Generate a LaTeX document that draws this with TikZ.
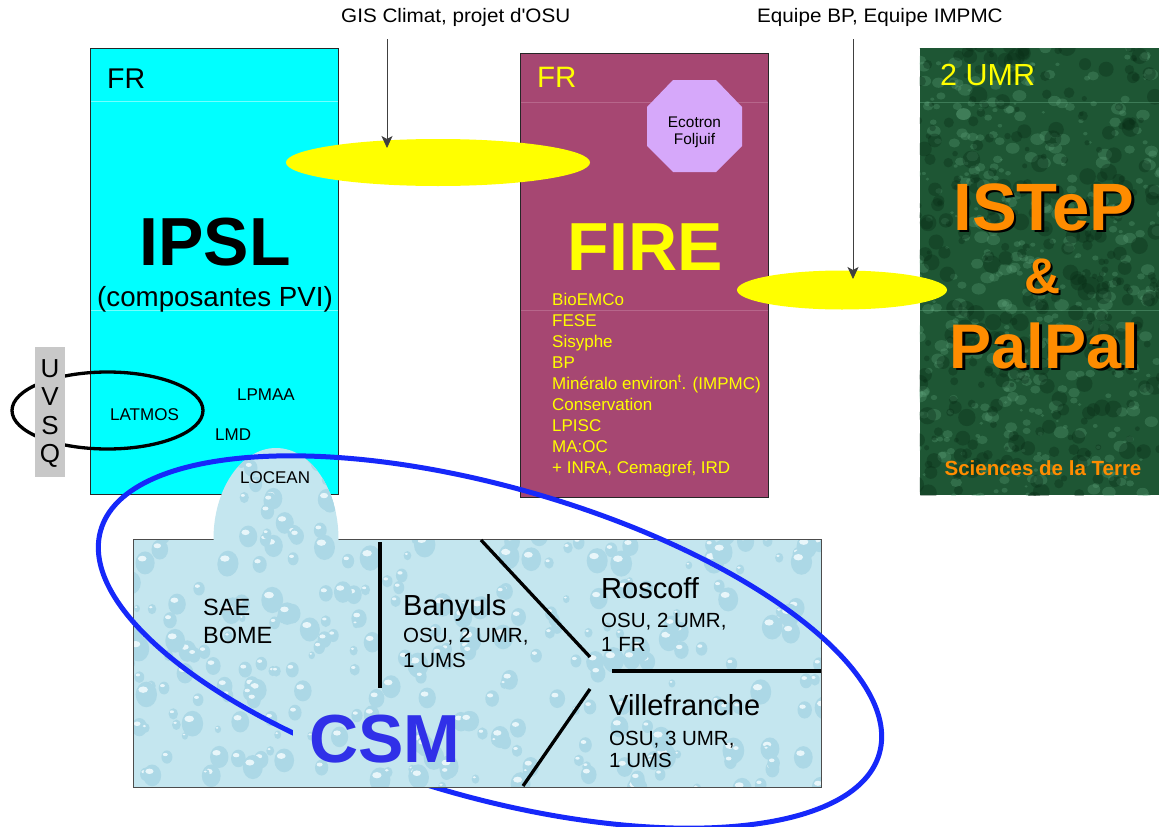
\documentclass[tikz,border=0pt]{standalone}
\usepackage{fontspec}
\setmainfont{Liberation Sans}[Ligatures=TeXOff]
\usetikzlibrary{arrows.meta,shapes.geometric}
\definecolor{ipslcyan}{RGB}{0,255,255}
\definecolor{firebg}{RGB}{166,71,114}
\definecolor{fireline}{RGB}{205,140,170}
\definecolor{octofill}{RGB}{214,168,250}
\definecolor{isgreen}{RGB}{30,86,52}
\definecolor{islite}{RGB}{100,170,130}
\definecolor{isdark}{RGB}{8,45,22}
\definecolor{orangetxt}{RGB}{255,140,0}
\definecolor{waterbg}{RGB}{196,230,239}
\definecolor{dropdark}{RGB}{172,216,230}
\definecolor{droplite}{RGB}{232,246,250}
\definecolor{csmblue}{RGB}{48,48,232}
\definecolor{ringblue}{RGB}{22,40,250}
\definecolor{uvsqgray}{RGB}{200,200,200}
\definecolor{mainyellow}{RGB}{255,255,0}
\newcommand\fsz[2]{\fontsize{#1}{#2}\selectfont}
\newcommand\shadowed[1]{\makebox[0pt][l]{\hspace{2.5pt}\raisebox{-2.5pt}{\color{black}#1}}#1}
\newcommand\waterdrops{%
  \pgfmathsetseed{4242}%
  \foreach \k in {1,...,380}{%
    \pgfmathsetmacro\px{128+rnd*700}%
    \pgfmathsetmacro\py{440+rnd*352}%
    \pgfmathsetmacro\pr{3+rnd*8}%
    \fill[dropdark] (\px,\py) ellipse [x radius=\pr, y radius=1.2*\pr];
    \fill[droplite] (\px-0.3*\pr,\py-0.45*\pr) ellipse [x radius=0.45*\pr, y radius=0.3*\pr];
  }}
\newcommand\greentexture{%
  \pgfmathsetseed{777}%
  \foreach \k in {1,...,450}{%
    \pgfmathsetmacro\px{915+rnd*250}%
    \pgfmathsetmacro\py{44+rnd*455}%
    \pgfmathsetmacro\pr{1.5+rnd*6}%
    \fill[islite,opacity=0.28] (\px,\py) ellipse [x radius=\pr, y radius=0.8*\pr];
  }
  \foreach \k in {1,...,350}{%
    \pgfmathsetmacro\px{915+rnd*250}%
    \pgfmathsetmacro\py{44+rnd*455}%
    \pgfmathsetmacro\pr{2+rnd*7}%
    \fill[isdark,opacity=0.35] (\px,\py) ellipse [x radius=\pr, y radius=\pr];
  }}
\tikzset{
  txt/.style={inner sep=0pt, anchor=base west},
  ctxt/.style={inner sep=0pt, anchor=base},
  boxline/.style={draw=black!85, line width=1pt},
  faint/.style={line width=0.8pt, opacity=0.45},
  labtxt/.style={txt, font=\fsz{17}{21}},
  firetxt/.style={txt, text=mainyellow, font=\fsz{17}{21}},
  subtxt/.style={txt, font=\fsz{20.5}{24}},
  headtxt/.style={txt, font=\fsz{29}{34}},
  bigtxt/.style={ctxt, font=\bfseries\fsz{68}{78}},
  toptxt/.style={txt, font=\fsz{19.5}{23}},
  yell/.style={ellipse, fill=mainyellow, draw=none, inner sep=0pt},
  thinarrow/.style={draw=black!75, line width=0.8pt, -{Stealth[length=12pt,width=11pt,inset=3pt]}},
  divider/.style={line width=3.3pt, black},
}
\begin{document}
\begin{tikzpicture}[x=1pt,y=-1pt]
\useasboundingbox (0,0) rectangle (1159,827);
\fill[white] (0,0) rectangle (1159,827);

% ---- IPSL box
\path[boxline, fill=ipslcyan] (90.5,48.5) rectangle (338.5,494.5);
\draw[faint, white] (91,101) -- (338,101);
\draw[faint, white] (91,310) -- (338,310);
% ---- FIRE box
\path[boxline, fill=firebg] (520.5,53.5) rectangle (768,497.5);
\draw[faint, fireline] (521,102) -- (767.5,102);
\draw[faint, fireline] (521,310) -- (767.5,310);
% ---- ISTeP box
\fill[isgreen] (919.5,48) rectangle (1159,495);
\begin{scope}
  \clip (919.5,48) rectangle (1159,495);
  \greentexture
\end{scope}
\draw[faint, islite] (920,102) -- (1159,102);
\draw[faint, islite] (920,310) -- (1159,310);

% ---- octagon
\fill[octofill] (673,80) -- (716,80) -- (742,107) -- (742,146) -- (716,172) -- (673,172) -- (647,146) -- (647,107) -- cycle;
\node[ctxt, font=\fsz{15.4}{18}] (eco) at (694.5,127) {Ecotron};
\node[ctxt, font=\fsz{15.4}{18}] (folj) at (694.5,144.5) {Foljuif};

% ---- IPSL texts
\node[txt, font=\fsz{28.5}{32}] (frA) at (107,88) {FR};
\node[bigtxt] (ipsl) at (215,265) {IPSL};
\node[ctxt, font=\fsz{27.7}{32}] (compo) at (215,306) {(composantes PVI)};
\node[labtxt] (lpmaa) at (237,400) {LPMAA};
\node[labtxt] (lmd) at (215,440) {LMD};
\node[labtxt] (latmos) at (110,420) {LATMOS};

% ---- FIRE texts
\node[txt, text=mainyellow, font=\fsz{29.5}{34}] (frB) at (537,87) {FR};
\node[bigtxt, text=mainyellow] (fire) at (645,270) {FIRE};
\foreach \t [count=\i from 0] in {BioEMCo, FESE, Sisyphe, BP, {Minéralo environ\textsuperscript{t}. (IMPMC)}, Conservation, LPISC, MA:OC, {+ INRA, Cemagref, IRD}}
  \node[firetxt] (fl\i) at (552,305+21*\i) {\t};

% ---- ISTeP texts
\node[txt, text=mainyellow, font=\fsz{30.5}{34}] (umr) at (940,85) {2 UMR};
\node[ctxt, text=orangetxt, font=\bfseries\fsz{67}{76}] (istep) at (1044,230) {\shadowed{ISTeP}};
\node[ctxt, text=orangetxt, font=\bfseries\fsz{50}{56}] (amp) at (1042.5,293) {\shadowed{\&}};
\node[ctxt, text=orangetxt, font=\bfseries\fsz{63}{72}] (pal) at (1044.5,368) {\shadowed{PalPal}};
\node[ctxt, text=orangetxt, font=\bfseries\fsz{20.5}{24}] (sciences) at (1043,475) {Sciences de la Terre};

% ---- LATMOS ring and UVSQ
\draw[line width=3.3pt, black] (107.5,410.5) ellipse [x radius=95.5, y radius=38.5];
\fill[uvsqgray] (35,347) rectangle (65,477);
\foreach \l/\yy [count=\i] in {U/377, V/405.5, S/434, Q/462.5}
  \node[ctxt, font=\fsz{26}{30}] (uv\i) at (50,\yy) {\l};

% ---- CSM water area
\fill[waterbg] (133,539) rectangle (821,787);
\begin{scope}
  \clip (133,539) rectangle (821,787);
  \waterdrops
\end{scope}
\draw[line width=0.9pt, black!70] (133,539) rectangle (821,787);
\begin{scope}
  \clip (150,440) rectangle (400,540);
  \fill[waterbg] (276,539) ellipse [x radius=62.5, y radius=91];
  \clip (276,539) ellipse [x radius=62.5, y radius=91];
  \waterdrops
\end{scope}

% dividers
\coordinate (vA) at (380,542); \coordinate (vB) at (380,688);
\coordinate (dA) at (481,540); \coordinate (dB) at (590,657);
\coordinate (hA) at (612,671); \coordinate (hB) at (821,671);
\coordinate (eA) at (590,689); \coordinate (eB) at (523,786);
\draw[divider] (vA) -- (vB);
\draw[divider] (dA) -- (dB);
\draw[divider] (hA) -- (hB);
\draw[divider] (eA) -- (eB);

% CSM texts
\node[labtxt] (locean) at (240,483) {LOCEAN};
\node[txt, font=\fsz{23.5}{28}] (sae) at (203,615) {SAE};
\node[txt, font=\fsz{23.5}{28}] (bome) at (203,643) {BOME};
\node[headtxt] (banyuls) at (403,615) {Banyuls};
\node[subtxt] (banA) at (403,642) {OSU, 2 UMR,};
\node[subtxt] (banB) at (403,667) {1 UMS};
\node[headtxt] (roscoff) at (601,598) {Roscoff};
\node[subtxt] (rosA) at (601,627) {OSU, 2 UMR,};
\node[subtxt] (rosB) at (601,651) {1 FR};
\node[headtxt] (villef) at (609,715) {Villefranche};
\node[subtxt] (vilA) at (609,745) {OSU, 3 UMR,};
\node[subtxt] (vilB) at (609,767) {1 UMS};

% ---- big blue ring
\draw[ringblue, line width=5pt, shift={(490,642)}, rotate=-16] (0,0) ellipse [x radius=405pt, y radius=155pt];
% CSM label patch (hides the ring behind the label)
\begin{scope}
  \clip (293,700) rectangle (472,786.5);
  \fill[waterbg] (293,700) rectangle (472,786.5);
  \waterdrops
\end{scope}
\draw[line width=0.9pt, black!70] (290,787) -- (475,787);
\node[bigtxt, text=csmblue] (csm) at (385,762) {CSM};

% ---- yellow ellipses
\node[yell, minimum width=304pt, minimum height=47pt] (ye1) at (438,162.5) {};
\node[yell, minimum width=210pt, minimum height=39pt] (ye2) at (842,290) {};

% ---- top labels and arrows
\node[toptxt] (gis) at (341,22) {\scalebox{1.06}[1]{GIS Climat, projet d'OSU}};
\node[toptxt] (eqp) at (757,22) {\scalebox{1.06}[1]{Equipe BP, Equipe IMPMC}};
\coordinate (gisfoot) at (387,39); \coordinate (gistip) at (387,148);
\coordinate (eqfoot) at (853,39); \coordinate (eqtip) at (853,279);
\draw[thinarrow] (gisfoot) -- (gistip);
\draw[thinarrow] (eqfoot) -- (eqtip);
\end{tikzpicture}
\end{document}
